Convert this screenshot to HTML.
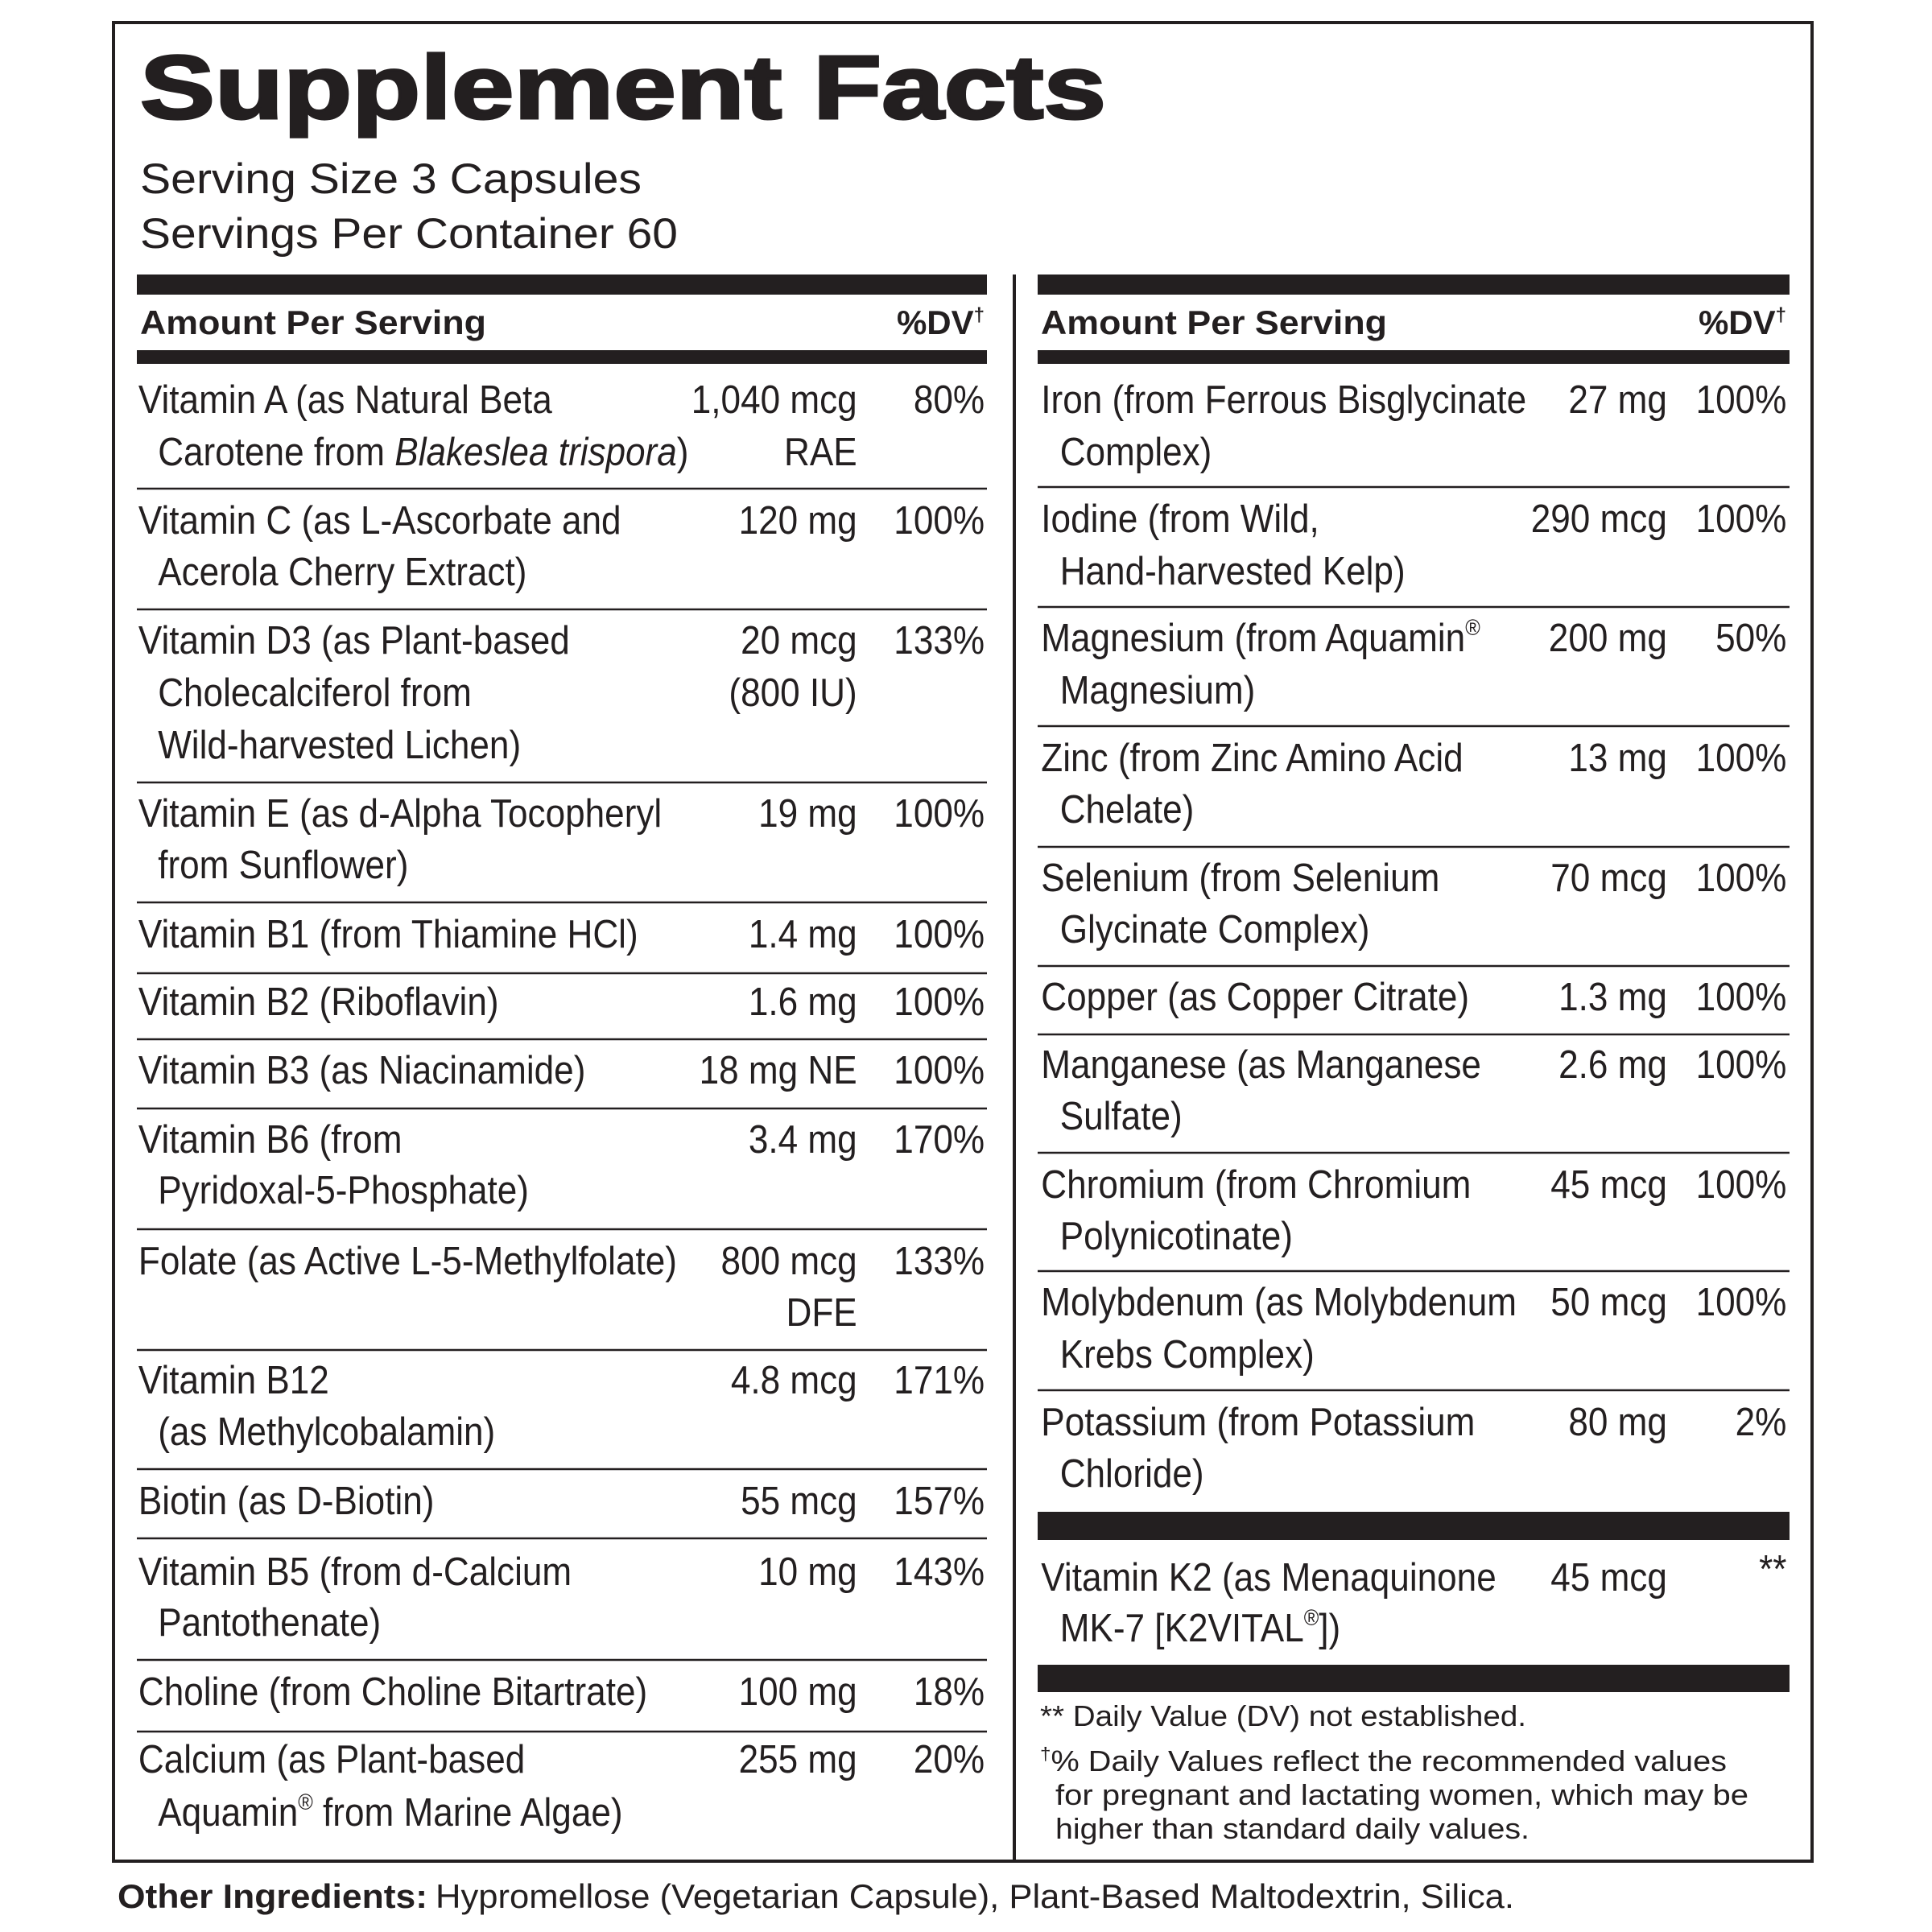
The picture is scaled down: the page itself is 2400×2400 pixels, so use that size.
<!DOCTYPE html>
<html><head><meta charset="utf-8"><style>
html,body{margin:0;padding:0;background:#fff;}
svg{display:block;}
text{font-family:"Liberation Sans",Arial,sans-serif;fill:#231f20;}
.b{font-size:49px;}
</style></head><body>
<svg width="2400" height="2400" viewBox="0 0 2400 2400" xmlns="http://www.w3.org/2000/svg">
<rect x="141" y="28" width="2110" height="2284" fill="none" stroke="#231f20" stroke-width="4"/>
<line x1="1260" y1="341" x2="1260" y2="2312" stroke="#231f20" stroke-width="4"/>
<text x="174" y="147" font-size="112" font-weight="bold" textLength="1200" lengthAdjust="spacingAndGlyphs" style="stroke:#231f20;stroke-width:3">Supplement Facts</text>
<text x="174" y="240" font-size="53" textLength="623" lengthAdjust="spacingAndGlyphs">Serving Size 3 Capsules</text>
<text x="174" y="308" font-size="53" textLength="668" lengthAdjust="spacingAndGlyphs">Servings Per Container 60</text>
<rect x="170" y="341" width="1056" height="25" fill="#231f20"/>
<rect x="170" y="435" width="1056" height="17" fill="#231f20"/>
<rect x="1289" y="341" width="934" height="25" fill="#231f20"/>
<rect x="1289" y="435" width="934" height="17" fill="#231f20"/>
<rect x="1289" y="1878" width="934" height="35" fill="#231f20"/>
<rect x="1289" y="2068" width="934" height="34" fill="#231f20"/>
<text x="174" y="415" font-size="42" font-weight="bold" textLength="430" lengthAdjust="spacingAndGlyphs">Amount Per Serving</text>
<text x="1223" y="415" font-size="42" font-weight="bold" text-anchor="end">%DV<tspan font-size="24" dy="-16">†</tspan></text>
<text x="1293" y="415" font-size="42" font-weight="bold" textLength="430" lengthAdjust="spacingAndGlyphs">Amount Per Serving</text>
<text x="2219" y="415" font-size="42" font-weight="bold" text-anchor="end">%DV<tspan font-size="24" dy="-16">†</tspan></text>
<g stroke="#231f20" stroke-width="2.5">
<line x1="170" x2="1226" y1="607" y2="607"/>
<line x1="170" x2="1226" y1="757" y2="757"/>
<line x1="170" x2="1226" y1="972" y2="972"/>
<line x1="170" x2="1226" y1="1121" y2="1121"/>
<line x1="170" x2="1226" y1="1209" y2="1209"/>
<line x1="170" x2="1226" y1="1291" y2="1291"/>
<line x1="170" x2="1226" y1="1377" y2="1377"/>
<line x1="170" x2="1226" y1="1527" y2="1527"/>
<line x1="170" x2="1226" y1="1677" y2="1677"/>
<line x1="170" x2="1226" y1="1825" y2="1825"/>
<line x1="170" x2="1226" y1="1911" y2="1911"/>
<line x1="170" x2="1226" y1="2062" y2="2062"/>
<line x1="170" x2="1226" y1="2151" y2="2151"/>
<line x1="1289" x2="2223" y1="605" y2="605"/>
<line x1="1289" x2="2223" y1="754" y2="754"/>
<line x1="1289" x2="2223" y1="902" y2="902"/>
<line x1="1289" x2="2223" y1="1052" y2="1052"/>
<line x1="1289" x2="2223" y1="1200" y2="1200"/>
<line x1="1289" x2="2223" y1="1285" y2="1285"/>
<line x1="1289" x2="2223" y1="1432" y2="1432"/>
<line x1="1289" x2="2223" y1="1579" y2="1579"/>
<line x1="1289" x2="2223" y1="1727" y2="1727"/>
</g>
<g transform="scale(0.9,1)">
<text class="b" x="191" y="513">Vitamin A (as Natural Beta</text>
<text class="b" x="218" y="578">Carotene from <tspan font-style="italic">Blakeslea trispora</tspan>)</text>
<text class="b" x="191" y="663">Vitamin C (as L-Ascorbate and</text>
<text class="b" x="218" y="727">Acerola Cherry Extract)</text>
<text class="b" x="191" y="812">Vitamin D3 (as Plant-based</text>
<text class="b" x="218" y="877">Cholecalciferol from</text>
<text class="b" x="218" y="942">Wild-harvested Lichen)</text>
<text class="b" x="191" y="1027">Vitamin E (as d-Alpha Tocopheryl</text>
<text class="b" x="218" y="1091">from Sunflower)</text>
<text class="b" x="191" y="1177">Vitamin B1 (from Thiamine HCl)</text>
<text class="b" x="191" y="1261">Vitamin B2 (Riboflavin)</text>
<text class="b" x="191" y="1346">Vitamin B3 (as Niacinamide)</text>
<text class="b" x="191" y="1432">Vitamin B6 (from</text>
<text class="b" x="218" y="1495">Pyridoxal-5-Phosphate)</text>
<text class="b" x="191" y="1583">Folate (as Active L-5-Methylfolate)</text>
<text class="b" x="191" y="1731">Vitamin B12</text>
<text class="b" x="218" y="1795">(as Methylcobalamin)</text>
<text class="b" x="191" y="1881">Biotin (as D-Biotin)</text>
<text class="b" x="191" y="1969">Vitamin B5 (from d-Calcium</text>
<text class="b" x="218" y="2032">Pantothenate)</text>
<text class="b" x="191" y="2118">Choline (from Choline Bitartrate)</text>
<text class="b" x="191" y="2202">Calcium (as Plant-based</text>
<text class="b" x="218" y="2268">Aquamin<tspan font-size="28" dy="-20">®</tspan><tspan dy="20"> from Marine Algae)</tspan></text>
<g text-anchor="end">
<text class="b" x="1183" y="513">1,040 mcg</text><text class="b" x="1183" y="578">RAE</text>
<text class="b" x="1183" y="663">120 mg</text>
<text class="b" x="1183" y="812">20 mcg</text><text class="b" x="1183" y="877">(800 IU)</text>
<text class="b" x="1183" y="1027">19 mg</text>
<text class="b" x="1183" y="1177">1.4 mg</text>
<text class="b" x="1183" y="1261">1.6 mg</text>
<text class="b" x="1183" y="1346">18 mg NE</text>
<text class="b" x="1183" y="1432">3.4 mg</text>
<text class="b" x="1183" y="1583">800 mcg</text><text class="b" x="1183" y="1647">DFE</text>
<text class="b" x="1183" y="1731">4.8 mcg</text>
<text class="b" x="1183" y="1881">55 mcg</text>
<text class="b" x="1183" y="1969">10 mg</text>
<text class="b" x="1183" y="2118">100 mg</text>
<text class="b" x="1183" y="2202">255 mg</text>
<text class="b" x="1359" y="513">80%</text>
<text class="b" x="1359" y="663">100%</text>
<text class="b" x="1359" y="812">133%</text>
<text class="b" x="1359" y="1027">100%</text>
<text class="b" x="1359" y="1177">100%</text>
<text class="b" x="1359" y="1261">100%</text>
<text class="b" x="1359" y="1346">100%</text>
<text class="b" x="1359" y="1432">170%</text>
<text class="b" x="1359" y="1583">133%</text>
<text class="b" x="1359" y="1731">171%</text>
<text class="b" x="1359" y="1881">157%</text>
<text class="b" x="1359" y="1969">143%</text>
<text class="b" x="1359" y="2118">18%</text>
<text class="b" x="1359" y="2202">20%</text>
</g>
<text class="b" x="1437" y="513">Iron (from Ferrous Bisglycinate</text>
<text class="b" x="1463" y="578">Complex)</text>
<text class="b" x="1437" y="661">Iodine (from Wild,</text>
<text class="b" x="1463" y="726">Hand-harvested Kelp)</text>
<text class="b" x="1437" y="809">Magnesium (from Aquamin<tspan font-size="28" dy="-20">®</tspan></text>
<text class="b" x="1463" y="874">Magnesium)</text>
<text class="b" x="1437" y="958">Zinc (from Zinc Amino Acid</text>
<text class="b" x="1463" y="1022">Chelate)</text>
<text class="b" x="1437" y="1107">Selenium (from Selenium</text>
<text class="b" x="1463" y="1171">Glycinate Complex)</text>
<text class="b" x="1437" y="1255">Copper (as Copper Citrate)</text>
<text class="b" x="1437" y="1339">Manganese (as Manganese</text>
<text class="b" x="1463" y="1403">Sulfate)</text>
<text class="b" x="1437" y="1488">Chromium (from Chromium</text>
<text class="b" x="1463" y="1552">Polynicotinate)</text>
<text class="b" x="1437" y="1634">Molybdenum (as Molybdenum</text>
<text class="b" x="1463" y="1699">Krebs Complex)</text>
<text class="b" x="1437" y="1783">Potassium (from Potassium</text>
<text class="b" x="1463" y="1847">Chloride)</text>
<text class="b" x="1437" y="1976">Vitamin K2 (as Menaquinone</text>
<text class="b" x="1463" y="2039">MK-7 [K2VITAL<tspan font-size="28" dy="-20">®</tspan><tspan dy="20">])</tspan></text>
<g text-anchor="end">
<text class="b" x="2301" y="513">27 mg</text>
<text class="b" x="2301" y="661">290 mcg</text>
<text class="b" x="2301" y="809">200 mg</text>
<text class="b" x="2301" y="958">13 mg</text>
<text class="b" x="2301" y="1107">70 mcg</text>
<text class="b" x="2301" y="1255">1.3 mg</text>
<text class="b" x="2301" y="1339">2.6 mg</text>
<text class="b" x="2301" y="1488">45 mcg</text>
<text class="b" x="2301" y="1634">50 mcg</text>
<text class="b" x="2301" y="1783">80 mg</text>
<text class="b" x="2301" y="1976">45 mcg</text>
<text class="b" x="2466" y="513">100%</text>
<text class="b" x="2466" y="661">100%</text>
<text class="b" x="2466" y="809">50%</text>
<text class="b" x="2466" y="958">100%</text>
<text class="b" x="2466" y="1107">100%</text>
<text class="b" x="2466" y="1255">100%</text>
<text class="b" x="2466" y="1339">100%</text>
<text class="b" x="2466" y="1488">100%</text>
<text class="b" x="2466" y="1634">100%</text>
<text class="b" x="2466" y="1783">2%</text>
<text class="b" x="2466" y="1966" font-size="36">**</text>
</g>
</g>
<text x="1292" y="2144" font-size="36" textLength="604" lengthAdjust="spacingAndGlyphs">** Daily Value (DV) not established.</text>
<text x="1292" y="2200" font-size="36" textLength="853" lengthAdjust="spacingAndGlyphs"><tspan font-size="22" dy="-14">†</tspan><tspan dy="14">% Daily Values reflect the recommended values</tspan></text>
<text x="1311" y="2242" font-size="36" textLength="861" lengthAdjust="spacingAndGlyphs">for pregnant and lactating women, which may be</text>
<text x="1311" y="2284" font-size="36" textLength="589" lengthAdjust="spacingAndGlyphs">higher than standard daily values.</text>
<text x="146" y="2370" font-size="42" font-weight="bold" textLength="385" lengthAdjust="spacingAndGlyphs">Other Ingredients:</text>
<text x="541" y="2370" font-size="42" textLength="1340" lengthAdjust="spacingAndGlyphs">Hypromellose (Vegetarian Capsule), Plant-Based Maltodextrin, Silica.</text>
</svg>
</body></html>
